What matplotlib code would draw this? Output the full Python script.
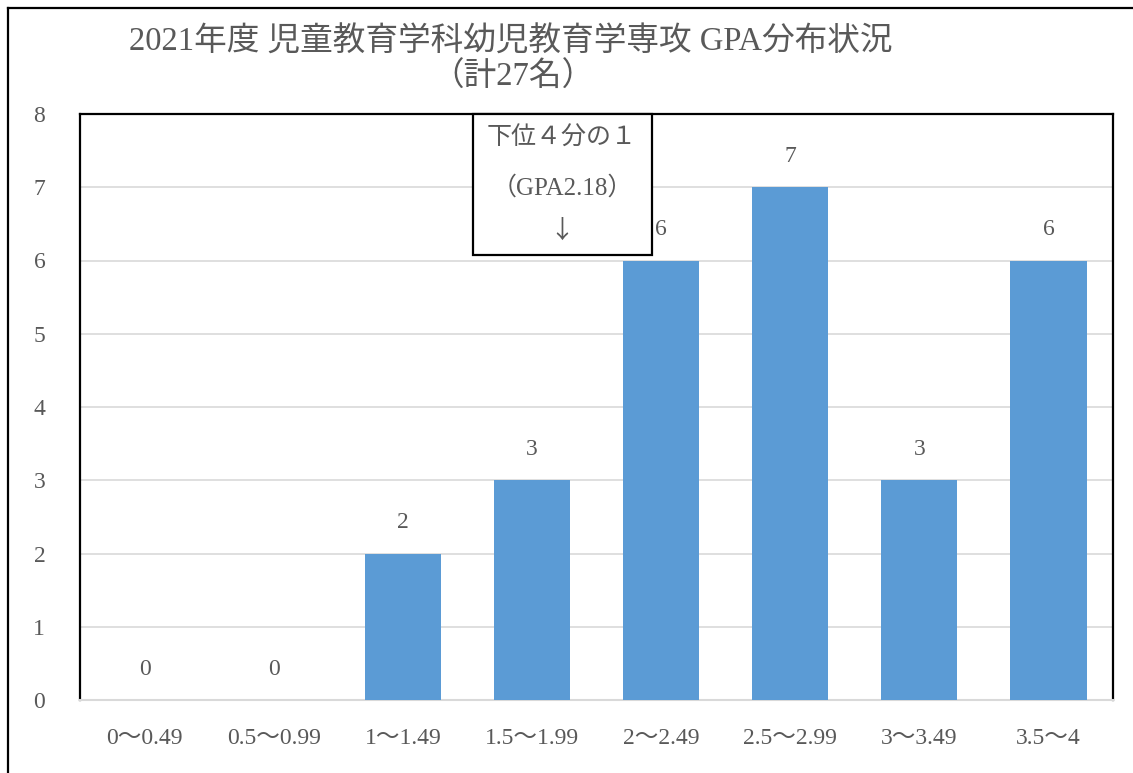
import matplotlib
matplotlib.use("Agg")
import matplotlib.pyplot as plt
from matplotlib.patches import Rectangle
from matplotlib.lines import Line2D

categories = ["0～0.49", "0.5～0.99", "1～1.49", "1.5～1.99", "2～2.49", "2.5～2.99", "3～3.49", "3.5～4"]
counts = [0, 0, 2, 3, 6, 7, 3, 6]
yticks = [0, 1, 2, 3, 4, 5, 6, 7, 8]
title_line1 = "2021年度 児童教育学科幼児教育学専攻 GPA分布状況"
title_line2 = "（計27名）"
note_lines = ["下位４分の１", "（GPA2.18）", "↓"]

plt.rcParams['font.family'] = ['Liberation Serif', 'Noto Sans CJK JP', 'DejaVu Sans']
TXT = "#595959"
BAR = "#5B9BD5"
GRID = "#D9D9D9"

fig = plt.figure(figsize=(11.33, 7.73), dpi=100)
ax = fig.add_axes([80/1133, 73/773, (1113-80)/1133, (700-114)/773])

x = list(range(len(categories)))
ax.bar(x, counts, width=0.59, color=BAR, zorder=3)
for xi, c in zip(x, counts):
    ax.annotate(str(c), (xi, c), xytext=(0, 22), textcoords="offset points",
                ha="center", va="center", fontsize=17, color=TXT)

ax.set_xlim(-0.5, len(categories) - 0.5)
ax.set_ylim(0, 8)
ax.set_yticks(yticks)
ax.set_yticklabels([str(v) for v in yticks])
ax.set_xticks(x)
ax.set_xticklabels(categories)
ax.tick_params(axis="y", length=0, pad=25, labelsize=17, labelcolor=TXT)
ax.tick_params(axis="x", length=0, pad=20, labelsize=17, labelcolor=TXT)
ax.grid(axis="y", color=GRID, linewidth=1.2, zorder=0)
ax.set_axisbelow(True)
for s in ["top", "left", "right"]:
    ax.spines[s].set_color("black")
    ax.spines[s].set_linewidth(1.6)
ax.spines["bottom"].set_color(GRID)
ax.spines["bottom"].set_linewidth(1.5)

# annotation box
ax.add_patch(Rectangle((0.3804, 0.7594), 0.5537 - 0.3804, 1.0 - 0.7594,
                       transform=ax.transAxes, fill=True, facecolor="white",
                       edgecolor="black", linewidth=1.6, zorder=5, clip_on=False))
for ty, line in zip([0.959, 0.875], note_lines[:2]):
    ax.text(0.4666, ty, line, transform=ax.transAxes, ha="center", va="center",
            fontsize=18, color=TXT, zorder=6)
ax.text(0.4666, 0.800, note_lines[2], transform=ax.transAxes, ha="center", va="center",
        fontsize=18, color=TXT, zorder=6, family=['Noto Sans CJK JP', 'DejaVu Sans'])

# title
fig.text(0.451, 1 - 42/773, title_line1, ha="center", va="center", fontsize=23.5, color=TXT)
fig.text(0.453, 1 - 77/773, title_line2, ha="center", va="center", fontsize=23.5, color=TXT)

# outer border
fig.add_artist(Line2D([8/1133, 1.0], [1 - 8/773, 1 - 8/773], color="black", linewidth=1.6,
                      transform=fig.transFigure))
fig.add_artist(Line2D([8/1133, 8/1133], [0.0, 1 - 8/773], color="black", linewidth=1.6,
                      transform=fig.transFigure))

fig.savefig("out.png", dpi=100, facecolor="white")
